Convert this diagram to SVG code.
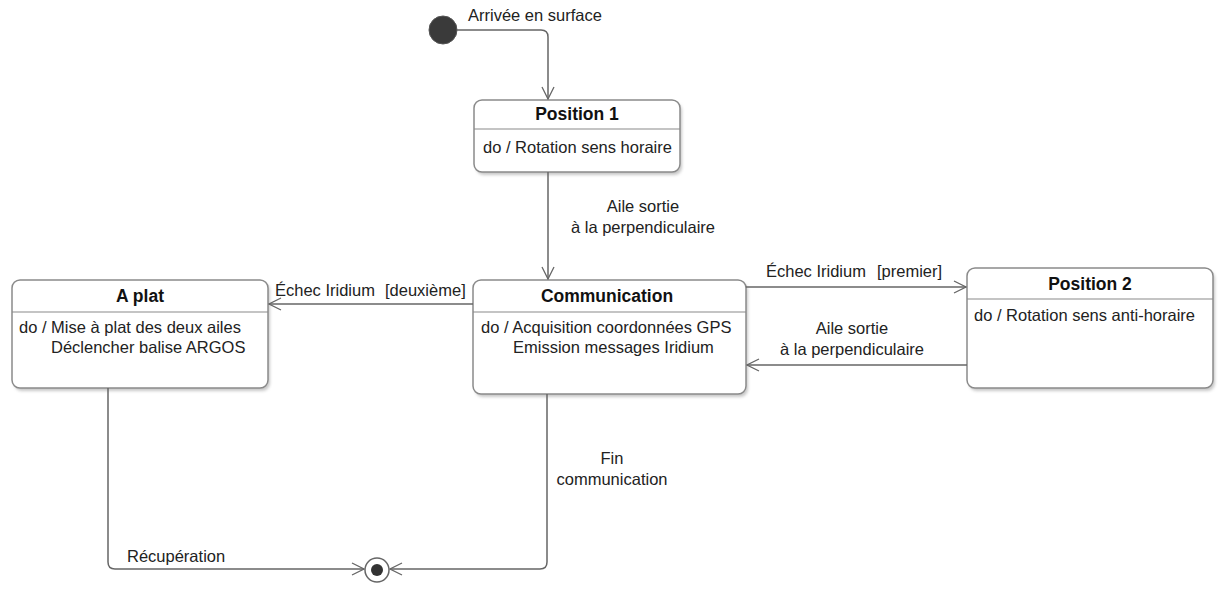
<svg xmlns="http://www.w3.org/2000/svg" width="1225" height="594" viewBox="0 0 1225 594">
<defs>
<style>
.box{fill:#fff;stroke:#8a8a8a;stroke-width:1.5}
.shadow{fill:#c8c8c8}
.div{stroke:#8a8a8a;stroke-width:1.2}
.t{font-family:"Liberation Sans",Arial,sans-serif;font-size:16.5px;fill:#222}
.b{font-family:"Liberation Sans",Arial,sans-serif;font-size:17.5px;font-weight:bold;fill:#111}
.c{fill:none;stroke:#666;stroke-width:1.5}
</style>
<marker id="arr" viewBox="0 0 14 14" refX="13" refY="7" markerWidth="14" markerHeight="14" markerUnits="userSpaceOnUse" orient="auto">
<path d="M1,1 L13,7 L1,13" fill="none" stroke="#666" stroke-width="1.3"/>
</marker>
<filter id="sh" x="-10%" y="-10%" width="130%" height="130%">
<feGaussianBlur stdDeviation="1.5"/>
</filter>
</defs>
<rect width="1225" height="594" fill="#fff"/>

<g id="initial">
<circle cx="443" cy="30" r="14" fill="#3a3a3a" stroke="#555" stroke-width="1"/>
<text class="t" x="468" y="21">Arrivée en surface</text>
</g>

<g id="position1">
<rect class="shadow" x="476" y="103" width="206" height="72" rx="8" filter="url(#sh)"/>
<rect class="box" x="474" y="100" width="206" height="72" rx="8"/>
<line class="div" x1="474" y1="129" x2="680" y2="129"/>
<text class="b" x="577" y="120" text-anchor="middle">Position 1</text>
<text class="t" x="483" y="153">do / Rotation sens horaire</text>
</g>

<g id="communication">
<rect class="shadow" x="475" y="283" width="273" height="114" rx="8" filter="url(#sh)"/>
<rect class="box" x="473" y="280" width="273" height="114" rx="8"/>
<line class="div" x1="473" y1="312" x2="746" y2="312"/>
<text class="b" x="607" y="302" text-anchor="middle">Communication</text>
<text class="t" x="481" y="333">do / Acquisition coordonnées GPS</text>
<text class="t" x="513" y="353">Emission messages Iridium</text>
</g>

<g id="aplat">
<rect class="shadow" x="14" y="283" width="256" height="108" rx="8" filter="url(#sh)"/>
<rect class="box" x="12" y="280" width="256" height="108" rx="8"/>
<line class="div" x1="12" y1="312" x2="268" y2="312"/>
<text class="b" x="140" y="302" text-anchor="middle">A plat</text>
<text class="t" x="19" y="333">do / Mise à plat des deux ailes</text>
<text class="t" x="51" y="353">Déclencher balise ARGOS</text>
</g>

<g id="position2">
<rect class="shadow" x="969" y="271" width="246" height="120" rx="8" filter="url(#sh)"/>
<rect class="box" x="967" y="268" width="246" height="120" rx="8"/>
<line class="div" x1="967" y1="299" x2="1213" y2="299"/>
<text class="b" x="1090" y="290" text-anchor="middle">Position 2</text>
<text class="t" x="974" y="321">do / Rotation sens anti-horaire</text>
</g>

<g id="final">
<circle cx="377" cy="570" r="12" fill="#fff" stroke="#666" stroke-width="1.5"/>
<circle cx="377" cy="570" r="6" fill="#333"/>
</g>

<g id="connectors">
<path class="c" d="M457,30 H541 Q548,30 548,37 V99" marker-end="url(#arr)"/>
<path class="c" d="M548,172 V279" marker-end="url(#arr)"/>
<text class="t" x="643" y="212" text-anchor="middle">Aile sortie</text>
<text class="t" x="643" y="233" text-anchor="middle">à la perpendiculaire</text>

<path class="c" d="M746,287 H966" marker-end="url(#arr)"/>
<text class="t" x="766" y="277">Échec Iridium</text>
<text class="t" x="877" y="277">[premier]</text>

<path class="c" d="M967,365 H747" marker-end="url(#arr)"/>
<text class="t" x="852" y="334" text-anchor="middle">Aile sortie</text>
<text class="t" x="852" y="355" text-anchor="middle">à la perpendiculaire</text>

<path class="c" d="M473,304 H269" marker-end="url(#arr)"/>
<text class="t" x="275" y="296">Échec Iridium</text>
<text class="t" x="385" y="296">[deuxième]</text>

<path class="c" d="M108,388 V562 Q108,569 115,569 H364" marker-end="url(#arr)"/>
<text class="t" x="127" y="562">Récupération</text>

<path class="c" d="M547,394 V562 Q547,569 540,569 H390" marker-end="url(#arr)"/>
<text class="t" x="612" y="464" text-anchor="middle">Fin</text>
<text class="t" x="612" y="485" text-anchor="middle">communication</text>
</g>
</svg>
